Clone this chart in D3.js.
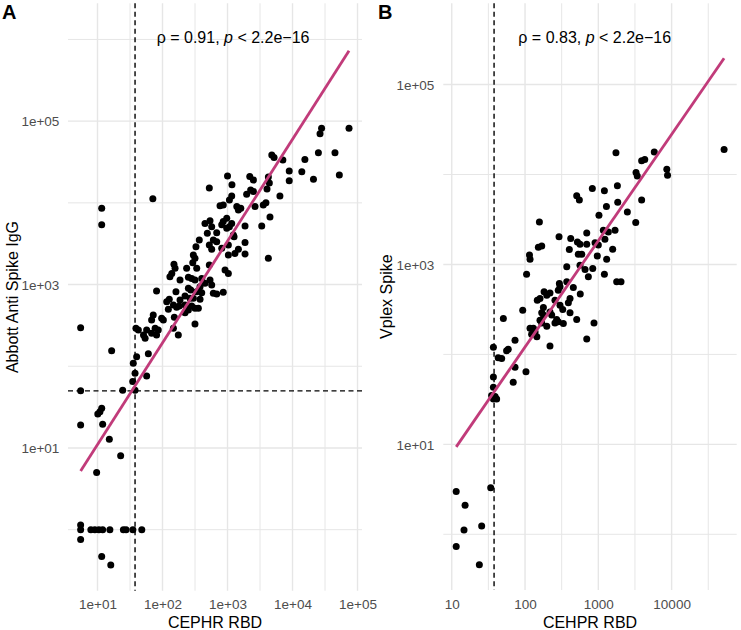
<!DOCTYPE html>
<html><head><meta charset="utf-8">
<script src="https://cdn.jsdelivr.net/npm/d3@7"></script>
<style>body{margin:0;background:#fff} svg{display:block} text{font-family:"Liberation Sans",Arial,Helvetica,sans-serif}</style>
</head><body><svg id="c" width="741" height="630"></svg>
<script>
// ---------- Panel A data: CEPHR RBD vs Abbott Anti Spike IgG ----------
const cephrA = [74000,28000,26500,45000,25000,15500,52500,21000,13900,8900,8900,7100,4800,5200,6400,4250,4400,4050,
 2200,2500,1000,1170,525,2270,2500,1970,1160,1070,71,3900,3550,2650,767,860,1390,1470,1600,4500,3360,1860,973,860,815,
 1160,1070,973,450,538,571,489,682,1230,1260,11.6,11.6,368,605,682,1860,327,525,571,1030,1470,1300,1860,298,316,1030,
 4250,815,292,525,150,156,235,336,916,1030,139,130,186,250,281,316,401,450,538,571,378,250,272,81,161,336,401,605,682,
 860,222,127,116,186,265,298,378,147,165,181,222,235,281,316,356,123,250,222,152,97,103,72,68,316,39,42.5,57,77,86,147,
 51,54,68,81,175,5.5,16.5,60.5,40,35.5,37.8,57,34.8,24.4,37.8,5.5,11.6,10.9,10.1,5.5,12,15.2,22.7,9.7,
 5.5,7.9,9.1,10.5,12,15.5,25,27.5,35,48,5.5,5.5,11.6,16];
const abbottA = [82000,82000,70000,41000,41000,34000,22000,19500,24000,24500,18700,33500,38500,36000,12100,20700,17500,14800,
 21000,19000,21300,16600,15200,14400,13800,12700,12100,10800,11200,10000,9400,9000,9200,9400,9000,8200,8600,6700,5200,5200,6500,5900,5400,
 5600,5100,4900,5600,6050,5100,4250,4300,4050,3850,8600,5400,3500,3500,3350,3260,2900,3050,2700,3050,2700,2400,2370,2300,2100,2300,
 2100,2780,1850,1740,1770,1580,1580,1580,1510,1370,1370,1250,1140,1230,1190,1140,1190,1040,1140,990,942,900,860,835,818,818,796,783,768,
 805,724,661,618,647,679,679,661,563,527,547,563,513,547,513,513,499,489,453,398,387,369,425,369,330,292,278,278,292,278,292,
 241,220,253,241,241,297,155,142,131,109,82,76,65,51,51,50,30.6,27.8,26,19.1,19.5,12.8,8.05,5.0,
 1,1,1,1,1,1,1,1,1,1,1.14,0.76,0.47,0.37];

// ---------- Panel B data: CEHPR RBD vs Vplex Spike ----------
const cehprB = [52000,1740,5800,3900,4300,8600,8800,3270,3400,828,1210,1820,507,551,1840,3900,1290,2490,1020,3240,157,695,1170,1370,1690,
 291,420,518,562,695,902,1000,1230,152,169,402,533,594,1570,968,1300,115,117,105,371,562,659,839,731,1210,1780,2040,294,300,284,371,456,567,
 182,198,219,160,147,256,411,390,300,327,178,169,178,93,219,231,411,270,256,284,333,507,873,50.6,160,169,198,117,130,137,123,145,219,695,73,
 37,59,56,43,48,73,103,37,69,37,35,39,41,37,11.5,15.2,14.7,11.5,25.6,23.8,34];
const vplexB = [19000,17500,17800,14200,14700,11400,9800,10500,9600,7000,6600,7500,5800,5200,4900,5200,4400,3840,3530,2930,2970,2240,2400,2300,2400,
 2030,1940,1780,1680,1680,1740,1640,1900,1550,1600,1470,1300,1300,1480,1240,1140,1270,1140,780,940,982,880,903,728,780,641,641,615,564,518,641,555,468,
 496,456,483,419,401,401,419,374,353,316,333,290,274,310,297,274,290,245,224,230,221,245,224,251,240,224,206,195,195,178,168,157,124,148,144,
 120,114,110,92,90,72,64,56,49,43,35,34,32,32,3.0,2.1,1.12,0.73,1.24,0.46,3.3];

// ---------- Fits (log10 y = intercept + slope * log10 x) and labels ----------
const fitA = [-0.206, 1.246];
const fitB = [-0.282, 1.182];
const statA = ["0.91", "2.2e\u221216"];
const statB = ["0.83", "2.2e\u221216"];
const cutoffX = 37.8;    // CEPHR RBD positivity cutoff
const cutoffAbbott = 50; // Abbott positivity cutoff

// ---------- Axis ticks ----------
const xTicksA = [10, 100, 1000, 10000, 100000];
const xLabelsA = ["1e+01", "1e+02", "1e+03", "1e+04", "1e+05"];
const xMinorA = [31.62, 316.2, 3162, 31623];
const yTicksA = [10, 1000, 100000];
const yLabelsA = ["1e+01", "1e+03", "1e+05"];
const yMinorA = [1, 100, 10000, 1000000];

const xTicksB = [10, 100, 1000, 10000];
const xLabelsB = ["10", "100", "1000", "10000"];
const xMinorB = [31.62, 316.2, 3162, 31623];
const yTicksB = [10, 1000, 100000];
const yLabelsB = ["1e+01", "1e+03", "1e+05"];
const yMinorB = [1, 100, 10000];

const svg = d3.select("#c");

function panel(cfg) {
  const g = svg.append("g");
  const x = d3.scaleLog().domain(cfg.xDomain).range([cfg.left, cfg.right]);
  const y = d3.scaleLog().domain(cfg.yDomain).range([cfg.bottom, cfg.top]);

  // grid
  const grid = g.append("g");
  grid.selectAll(".mx").data(cfg.xMinor).join("line")
    .attr("x1", d => x(d)).attr("x2", d => x(d)).attr("y1", cfg.top).attr("y2", cfg.bottom)
    .attr("stroke", "#e6e6e6").attr("stroke-width", 1);
  grid.selectAll(".my").data(cfg.yMinor).join("line")
    .attr("y1", d => y(d)).attr("y2", d => y(d)).attr("x1", cfg.left).attr("x2", cfg.right)
    .attr("stroke", "#e6e6e6").attr("stroke-width", 1);
  grid.selectAll(".Mx").data(cfg.xTicks).join("line")
    .attr("x1", d => x(d)).attr("x2", d => x(d)).attr("y1", cfg.top).attr("y2", cfg.bottom)
    .attr("stroke", "#e6e6e6").attr("stroke-width", 1.4);
  grid.selectAll(".My").data(cfg.yTicks).join("line")
    .attr("y1", d => y(d)).attr("y2", d => y(d)).attr("x1", cfg.left).attr("x2", cfg.right)
    .attr("stroke", "#e6e6e6").attr("stroke-width", 1.4);

  // axes
  const xa = g.append("g").attr("transform", `translate(0,${cfg.bottom})`)
    .call(d3.axisBottom(x).tickValues(cfg.xTicks).tickFormat((d, i) => cfg.xLabels[i]).tickSize(0).tickPadding(0));
  xa.select(".domain").remove();
  xa.selectAll("text").attr("y", 0).attr("dy", null).attr("transform", `translate(0,${cfg.xLabelBase - cfg.bottom})`)
    .attr("fill", "#4d4d4d").style("font-size", "13.5px").style("font-family", '"Liberation Sans",Arial,sans-serif');
  const ya = g.append("g").attr("transform", `translate(${cfg.yLabelRight},0)`)
    .call(d3.axisLeft(y).tickValues(cfg.yTicks).tickFormat((d, i) => cfg.yLabels[i]).tickSize(0).tickPadding(0));
  ya.select(".domain").remove();
  ya.selectAll("text").attr("x", 0).attr("dy", "0.35em")
    .attr("fill", "#4d4d4d").style("font-size", "13.5px").style("font-family", '"Liberation Sans",Arial,sans-serif');

  // dashed reference lines
  g.append("line").attr("x1", x(cutoffX)).attr("x2", x(cutoffX)).attr("y1", cfg.top).attr("y2", cfg.bottom)
    .attr("stroke", "#000").attr("stroke-width", 1.4).attr("stroke-dasharray", "5,3.5");
  if (cfg.hline) {
    g.append("line").attr("y1", y(cfg.hline)).attr("y2", y(cfg.hline)).attr("x1", cfg.left).attr("x2", cfg.right)
      .attr("stroke", "#000").attr("stroke-width", 1.4).attr("stroke-dasharray", "5,3.5");
  }

  // points
  const pts = cfg.xs.map((v, i) => [v, cfg.ys[i]]);
  g.append("g").selectAll("circle").data(pts).join("circle")
    .attr("cx", d => x(d[0])).attr("cy", d => y(d[1])).attr("r", 3.5).attr("fill", "#000");

  // fit line
  const ext = d3.extent(cfg.xs);
  const fy = v => Math.pow(10, cfg.fit[0] + cfg.fit[1] * Math.log10(v));
  g.append("line").attr("x1", x(ext[0])).attr("y1", y(fy(ext[0])))
    .attr("x2", x(ext[1])).attr("y2", y(fy(ext[1])))
    .attr("stroke", "#c13b7a").attr("stroke-width", 2.8);

  // annotation
  const t = g.append("text").attr("x", cfg.annX).attr("y", cfg.annY).style("font-size", "16px").attr("fill", "#000");
  t.append("tspan").text(`\u03c1 = ${cfg.stat[0]}, `);
  t.append("tspan").attr("font-style", "italic").text("p");
  t.append("tspan").text(` < ${cfg.stat[1]}`);

  // axis titles
  g.append("text").attr("x", (cfg.left + cfg.right) / 2).attr("y", cfg.xTitleBase).attr("text-anchor", "middle")
    .style("font-size", "16px").attr("fill", "#000").text(cfg.xTitle);
  g.append("text").attr("transform", `translate(${cfg.yTitleX},${(cfg.top + cfg.bottom) / 2}) rotate(-90)`)
    .attr("text-anchor", "middle").style("font-size", "16px").attr("fill", "#000").text(cfg.yTitle);

  // tag
  g.append("text").attr("x", cfg.tagX).attr("y", 19).style("font-size", "20px").style("font-weight", "bold")
    .attr("fill", "#000").text(cfg.tag);
}

panel({
  xs: cephrA, ys: abbottA, fit: fitA, stat: statA, hline: cutoffAbbott,
  xDomain: [3.516, 117200], yDomain: [0.179, 2770000],
  left: 68, right: 362, top: 3.3, bottom: 590.7,
  xTicks: xTicksA, xLabels: xLabelsA, xMinor: xMinorA,
  yTicks: yTicksA, yLabels: yLabelsA, yMinor: yMinorA,
  xLabelBase: 608.5, yLabelRight: 59.3, xTitleBase: 627.5, yTitleX: 17.5,
  annX: 156.7, annY: 42.5, xTitle: "CEPHR RBD", yTitle: "Abbott Anti Spike IgG", tag: "A", tagX: 2
});
panel({
  xs: cehprB, ys: vplexB, fit: fitB, stat: statB, hline: null,
  xDomain: [7.67, 77270], yDomain: [0.2404, 800000],
  left: 443.3, right: 736.7, top: 3.3, bottom: 590,
  xTicks: xTicksB, xLabels: xLabelsB, xMinor: xMinorB,
  yTicks: yTicksB, yLabels: yLabelsB, yMinor: yMinorB,
  xLabelBase: 608.5, yLabelRight: 434.3, xTitleBase: 627.5, yTitleX: 392,
  annX: 518.3, annY: 43, xTitle: "CEHPR RBD", yTitle: "Vplex Spike", tag: "B", tagX: 378
});
</script>
</body></html>
